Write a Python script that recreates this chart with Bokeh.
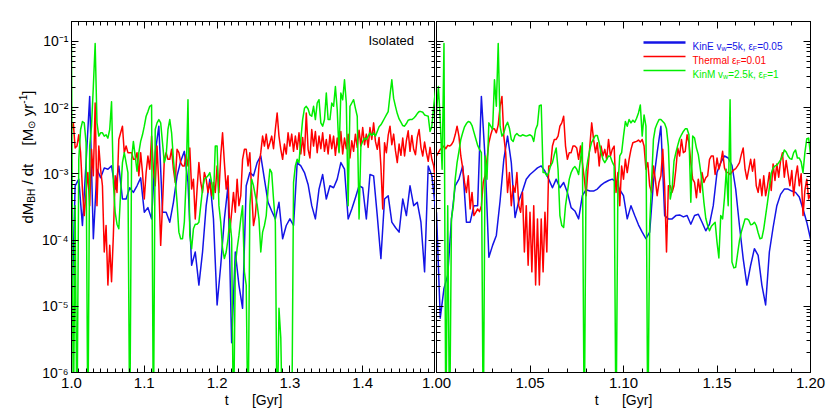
import numpy as np
from bokeh.plotting import figure
from bokeh.models import (Range1d, FixedTicker, LinearAxis, LogAxis, Label, BoxAnnotation,
                          CustomJSTickFormatter)
from bokeh.layouts import row
from bokeh.embed import file_html
from bokeh.resources import INLINE

# ---------------- data: log10(dM_BH/dt [Msun/yr]) sampled uniformly in t ----------------
# left panel: t = 1.0 ... 1.5 Gyr ; right panel: t = 1.0 ... 1.2 Gyr
series_names = ["KinE v_w=5k, eps_F=0.05", "Thermal eps_F=0.01", "KinM v_w=2.5k, eps_F=1"]
left_t_range = (1.0, 1.5)
right_t_range = (1.0, 1.2)

kine_left_log10 = [
    -5.30, -3.18, -3.08, -3.78, -2.83, -1.83, -3.98, -2.93, -3.06, -2.91,
    -2.93, -2.88, -3.23, -2.88, -3.38, -3.38, -3.21, -3.28, -3.18, -3.06,
    -3.58, -3.51, -3.68, -2.68, -2.28, -3.58, -3.58, -3.73, -3.43, -3.03,
    -2.81, -2.66, -3.13, -4.38, -4.18, -4.68, -4.18, -3.48, -3.08, -3.68,
    -4.98, -4.38, -3.68, -3.18, -5.55, -4.18, -4.68, -5.03, -3.18, -2.98,
    -3.03, -2.83, -2.73, -3.08, -3.43, -3.56, -3.68, -3.43, -3.98, -3.78,
    -3.68, -3.78, -2.83, -2.88, -2.98, -3.16, -3.48, -3.68, -3.23, -3.01,
    -3.38, -3.18, -3.21, -3.08, -2.83, -2.93, -3.68, -3.53, -3.36, -3.18,
    -3.21, -3.68, -3.01, -3.03, -3.63, -4.28, -3.38, -3.33, -3.73, -3.81,
    -3.88, -3.38, -3.63, -3.18, -3.48, -3.43, -3.73, -4.48, -2.88, -3.03,
    -3.53]

thermal_left_log10 = [
    -2.33, -2.23, -2.61, -2.58, -2.41, -2.68, -3.23, -3.63, -3.28, -2.98,
    -3.48, -2.63, -3.03, -1.93, -3.48, -2.58, -2.93, -3.18, -4.18, -3.78,
    -4.68, -4.08, -4.63, -3.93, -3.03, -3.28, -2.48, -2.38, -2.28, -2.68,
    -2.58, -2.68, -2.68, -2.68, -2.78, -2.78, -2.68, -3.03, -2.68, -2.98,
    -3.38, -2.98, -2.73, -2.93, -2.43, -2.93, -3.18, -2.58, -3.18, -4.08,
    -3.48, -2.78, -2.68, -2.78, -2.78, -2.63, -2.93, -3.13, -2.63, -2.68,
    -2.83, -2.88, -2.88, -2.71, -2.88, -2.61, -3.23, -3.08, -3.68, -3.23,
    -2.83, -3.13, -3.28, -2.98, -3.08, -3.28, -3.13, -3.33, -3.13, -3.28,
    -2.88, -3.28, -2.73, -2.38, -2.83, -3.23, -3.03, -3.88, -3.58, -3.28,
    -3.58, -3.08, -3.48, -3.33, -2.78, -2.63, -2.63, -2.88, -2.68, -3.28,
    -3.78, -3.63, -3.28, -2.88, -2.68, -2.43, -2.58, -2.40, -2.62, -2.53,
    -2.43, -2.62, -2.33, -2.08, -2.43, -2.63, -2.78, -2.55, -2.70, -2.38,
    -2.58, -2.40, -2.66, -2.43, -2.63, -2.38, -2.70, -2.45, -2.72, -2.08,
    -2.63, -2.76, -2.33, -2.58, -2.36, -2.68, -2.43, -2.62, -2.38, -2.66,
    -2.48, -2.70, -2.41, -2.62, -2.43, -2.72, -2.46, -2.66, -2.36, -2.70,
    -2.46, -2.62, -2.40, -2.76, -2.50, -2.66, -2.40, -2.60, -2.34, -2.58,
    -2.30, -2.56, -2.40, -2.60, -2.30, -2.48, -2.23, -2.51, -2.63, -2.45,
    -2.88, -3.53, -2.53, -2.68, -2.42, -2.28, -2.56, -2.40, -2.65, -2.83,
    -2.55, -2.72, -2.46, -2.73, -2.50, -2.35, -2.66, -2.42, -2.63, -2.71,
    -2.45, -2.33, -2.60, -2.73, -2.52, -2.68, -2.81, -2.60, -2.78, -2.88,
    -3.13]

kinm_left_log10 = [
    -1.05, -7.00, -3.48, -7.00, -2.78, -2.33, -2.21, -2.23, -2.53, -7.00,
    -2.58, -2.28, -1.68, -1.03, -2.23, -2.43, -2.38, -2.38, -2.43, -2.41,
    -2.46, -2.33, -1.91, -3.13, -3.58, -3.76, -3.83, -3.28, -2.83, -2.68,
    -2.83, -2.98, -7.00, -2.78, -2.51, -2.73, -2.96, -2.68, -2.51, -2.41,
    -2.28, -2.13, -2.06, -1.98, -1.96, -7.00, -2.33, -2.23, -2.18, -2.23,
    -2.53, -2.83, -2.73, -2.33, -2.18, -2.38, -2.78, -3.08, -3.43, -3.88,
    -3.98, -3.98, -3.73, -3.08, -1.88, -3.93, -4.13, -3.83, -3.76, -3.76,
    -3.73, -3.48, -3.23, -3.08, -3.06, -3.03, -2.98, -3.13, -3.38, -2.58,
    -2.58, -3.48, -3.73, -4.13, -4.28, -4.18, -3.98, -3.68, -3.98, -7.00,
    -4.38, -4.13, -3.93, -3.68, -3.48, -4.48, -4.68, -7.00, -3.48, -3.08,
    -3.18, -3.33, -3.46, -3.68, -4.18, -3.88, -3.78, -3.63, -3.23, -2.93,
    -2.98, -3.38, -3.73, -7.00, -5.03, -5.48, -7.00, -7.00, -7.00, -7.00,
    -7.00, -7.00, -3.13, -2.88, -2.78, -2.83, -2.48, -2.18, -2.01, -1.98,
    -2.02, -2.11, -2.13, -1.98, -2.18, -1.93, -1.88, -2.23, -2.28, -2.18,
    -1.78, -2.18, -2.18, -1.93, -1.98, -1.68, -2.03, -2.68, -1.78, -1.88,
    -1.58, -1.93, -3.48, -1.98, -1.93, -1.88, -2.01, -2.13, -3.68, -2.58,
    -2.51, -2.46, -2.48, -2.43, -2.38, -2.42, -2.38, -2.43, -2.36, -2.29,
    -2.26, -2.21, -2.16, -2.11, -2.06, -1.81, -1.58, -1.86, -1.98, -2.09,
    -2.17, -2.22, -2.27, -2.28, -2.24, -2.19, -2.18, -2.18, -2.16, -2.13,
    -2.09, -2.06, -2.06, -2.07, -2.11, -2.12, -2.13, -2.36, -2.28, -1.98,
    -1.73]

kine_right_log10 = [
    -3.58, -5.18, -4.73, -4.53, -3.68, -3.18, -3.08, -2.88, -3.73, -3.73,
    -3.48, -3.48, -1.83, -2.78, -4.26, -4.08, -3.93, -3.41, -2.78, -2.43,
    -2.83, -3.66, -3.41, -3.26, -3.08, -3.01, -2.96, -2.91, -2.88, -2.96,
    -3.08, -3.21, -3.08, -3.21, -3.13, -3.28, -3.51, -3.56, -3.68, -3.33,
    -3.24, -3.26, -3.26, -3.23, -3.17, -3.13, -3.10, -3.08, -3.12, -3.24,
    -3.33, -3.68, -3.48, -3.63, -3.77, -3.88, -3.98, -3.88, -3.13, -2.68,
    -2.28, -3.63, -3.68, -3.68, -3.63, -3.62, -3.65, -3.63, -3.76, -3.63,
    -3.61, -3.73, -3.86, -3.76, -3.48, -2.98, -2.83, -2.73, -2.76, -2.87,
    -3.23, -3.78, -4.28, -4.68, -4.38, -4.13, -4.23, -4.68, -4.98, -4.18,
    -3.81, -3.48, -3.31, -3.23, -3.23, -3.26, -3.28, -3.35, -3.53, -3.73,
    -3.98]

thermal_right_log10 = [
    -2.73, -2.68, -2.63, -2.61, -2.58, -2.62, -2.57, -2.58, -2.56, -2.51,
    -2.41, -2.28, -2.43, -2.73, -2.91, -3.13, -3.28, -3.03, -3.53, -3.28,
    -3.63, -3.58, -3.53, -3.57, -3.48, -3.13, -3.02, -2.78, -2.53, -2.41,
    -2.32, -2.32, -2.38, -2.26, -1.98, -1.83, -2.43, -2.68, -3.28, -2.98,
    -3.48, -3.18, -3.28, -2.98, -3.48, -3.58, -3.28, -4.18, -3.48, -4.38,
    -3.58, -4.48, -3.48, -4.68, -3.68, -4.68, -3.68, -4.48, -3.58, -4.18,
    -2.88, -2.88, -2.58, -2.48, -2.48, -2.43, -2.28, -2.23, -2.13, -2.58,
    -2.78, -2.68, -2.68, -2.58, -2.58, -2.61, -2.78, -2.58, -2.83, -3.06,
    -3.33, -2.93, -2.58, -2.23, -2.48, -2.68, -2.53, -2.88, -2.58, -2.73,
    -2.63, -2.78, -2.48, -2.73, -2.63, -2.58, -3.28, -2.98, -3.48, -2.88,
    -3.08, -2.78, -2.98, -2.78, -2.63, -2.53, -2.52, -2.51, -2.49, -2.52,
    -2.48, -2.58, -2.93, -2.83, -3.18, -3.28, -2.88, -3.08, -3.33, -3.13,
    -3.03, -2.63, -3.18, -4.18, -3.18, -3.18, -3.28, -3.18, -2.93, -2.61,
    -2.73, -2.48, -2.68, -2.66, -2.41, -2.53, -2.83, -3.08, -3.13, -3.36,
    -3.08, -3.28, -2.98, -3.13, -3.06, -3.03, -2.78, -2.73, -2.73, -3.01,
    -2.76, -2.93, -2.83, -2.66, -2.91, -2.98, -2.98, -3.01, -2.97, -2.94,
    -2.92, -2.88, -2.83, -2.71, -2.61, -2.93, -3.08, -2.93, -2.78, -2.96,
    -2.78, -3.18, -3.28, -3.08, -3.33, -3.03, -3.33, -3.18, -2.98, -3.25,
    -2.85, -3.10, -2.85, -3.05, -2.80, -2.68, -3.05, -2.80, -3.00, -3.18,
    -2.95, -3.33, -3.05, -2.88, -3.18, -3.00, -3.63, -3.25, -3.08, -3.38,
    -3.30]

kinm_right_log10 = [
    -2.08, -1.68, -2.18, -2.93, -1.03, -7.00, -3.48, -7.00, -3.68, -3.48,
    -3.08, -2.83, -2.66, -2.48, -2.38, -2.29, -2.24, -2.21, -2.22, -2.27,
    -2.37, -2.47, -2.57, -2.63, -2.68, -7.00, -2.73, -3.08, -2.23, -2.28,
    -2.33, -1.58, -1.98, -1.03, -2.28, -2.43, -2.38, -2.28, -2.22, -2.31,
    -2.48, -2.51, -2.42, -2.39, -2.42, -2.43, -2.41, -2.42, -2.43, -2.42,
    -2.41, -2.43, -2.51, -2.33, -2.26, -1.97, -1.96, -2.98, -2.98, -3.03,
    -2.98, -2.88, -2.83, -2.71, -2.61, -2.93, -3.63, -3.78, -3.81, -3.48,
    -3.28, -3.08, -2.98, -2.92, -2.89, -2.93, -3.01, -2.78, -2.53, -7.00,
    -2.96, -2.78, -2.63, -2.52, -2.47, -2.42, -2.42, -2.53, -2.68, -2.78,
    -2.83, -2.78, -2.73, -2.74, -2.82, -2.88, -7.00, -3.18, -2.73, -2.68,
    -2.43, -2.21, -2.28, -2.18, -2.23, -2.19, -2.22, -2.16, -2.08, -1.96,
    -2.43, -2.11, -2.28, -7.00, -3.78, -3.13, -2.48, -2.31, -2.24, -2.18,
    -2.18, -2.21, -2.24, -2.32, -2.58, -3.38, -3.23, -2.81, -2.68, -2.57,
    -2.47, -2.41, -2.36, -2.32, -2.32, -2.41, -3.43, -2.43, -2.46, -2.61,
    -2.71, -2.91, -3.13, -3.43, -3.67, -3.78, -3.86, -3.79, -3.76, -3.73,
    -4.03, -4.27, -3.63, -3.68, -3.36, -2.93, -3.48, -1.88, -4.33, -4.42,
    -4.41, -4.21, -4.01, -3.88, -3.78, -3.68, -3.68, -3.70, -3.77, -3.76,
    -3.73, -3.78, -3.89, -3.98, -3.97, -3.83, -3.63, -3.43, -3.21, -2.99,
    -2.91, -2.88, -2.87, -2.83, -2.79, -2.73, -2.64, -2.67, -2.73, -2.77,
    -2.78, -2.68, -2.64, -2.76, -2.76, -2.82, -2.98, -2.68, -2.47, -2.46,
    -2.71]

# ---------------- tick definitions ----------------
y_major = [1e-6, 1e-5, 1e-4, 1e-3, 1e-2, 1e-1]
y_major_labels = ["10\u207b\u2076", "10\u207b\u2075", "10\u207b\u2074",
                  "10\u207b\u00b3", "10\u207b\u00b2", "10\u207b\u00b9"]
y_minor = [m * d for d in y_major for m in range(2, 10)]

left_x_major = [1.0, 1.1, 1.2, 1.3, 1.4, 1.5]
left_x_labels = ["1.0", "1.1", "1.2", "1.3", "1.4", ""]
left_x_minor = [round(1.0 + 0.01 * i, 2) for i in range(51)]
right_x_major = [1.0, 1.05, 1.1, 1.15, 1.2]
right_x_labels = ["1.00", "1.05", "1.10", "1.15", "1.20"]
right_x_minor = [round(1.0 + 0.01 * i, 2) for i in range(21)]
x_title = "t\u00a0\u00a0\u00a0\u00a0\u00a0\u00a0[Gyr]"

COL_KINE = "#1414e6"
COL_THERM = "#ff0000"
COL_KINM = "#00ee00"
FONT = "Liberation Sans"
H = 412
BT, BB = 21, 40
LABEL_W = 38


def style_axis(ax, major, minor, labels):
    ax.ticker = FixedTicker(ticks=major, minor_ticks=minor)
    ax.major_tick_in = 7
    ax.major_tick_out = 0
    ax.minor_tick_in = 4
    ax.minor_tick_out = 0
    ax.axis_line_color = "black"
    ax.axis_line_width = 1
    ax.major_tick_line_color = "black"
    ax.minor_tick_line_color = "black"
    if labels is None:
        ax.formatter = CustomJSTickFormatter(code="return ''")
        ax.major_label_text_font_size = "1px"
        ax.major_label_standoff = 0
    else:
        ax.major_label_overrides = {v: s for v, s in zip(major, labels)}
        ax.major_label_text_font = FONT
        ax.major_label_text_font_size = "15px"
        ax.major_label_text_color = "black"


def make_panel(t_range, width, bl, br, xmaj, xmin, xlab, ylab):
    p = figure(width=width, height=H, x_range=Range1d(*t_range),
               y_range=Range1d(1e-6, 0.2), y_axis_type="log",
               x_axis_location=None, y_axis_location=None,
               output_backend="svg", toolbar_location=None,
               min_border_left=bl, min_border_right=br,
               min_border_top=BT, min_border_bottom=BB)
    p.grid.visible = False
    p.outline_line_color = "black"
    p.background_fill_color = "white"
    p.border_fill_color = None

    bottom = LinearAxis(axis_label=x_title)
    style_axis(bottom, xmaj, xmin, xlab)
    bottom.major_label_standoff = 5
    bottom.axis_label_standoff = 1
    bottom.axis_label_text_font = FONT
    bottom.axis_label_text_font_size = "14px"
    bottom.axis_label_text_font_style = "normal"
    bottom.axis_label_text_color = "black"
    p.add_layout(bottom, "below")
    top = LinearAxis()
    style_axis(top, xmaj, xmin, None)
    p.add_layout(top, "above")
    left = LogAxis()
    style_axis(left, y_major, y_minor, y_major_labels if ylab else None)
    if ylab:
        left.major_label_standoff = 3
        left.major_label_text_font_size = "14px"
    p.add_layout(left, "left")
    right = LogAxis()
    style_axis(right, y_major, y_minor, None)
    p.add_layout(right, "right")
    return p


def draw(p, t_range, lg, color):
    t = np.linspace(t_range[0], t_range[1], len(lg))
    p.line(t, 10.0 ** np.asarray(lg), line_color=color, line_width=1.5, line_join="round")


p1 = make_panel(left_t_range, 435 - LABEL_W, 67 - LABEL_W, 0,
                left_x_major, left_x_minor, left_x_labels, True)
p2 = make_panel(right_t_range, 410, 16, 20, right_x_major, right_x_minor, right_x_labels, False)
p2.margin = (0, 0, 0, -15)

for p, rng, data in ((p1, left_t_range, (kine_left_log10, thermal_left_log10, kinm_left_log10)),
                     (p2, right_t_range, (kine_right_log10, thermal_right_log10, kinm_right_log10))):
    for lg, col in zip(data, (COL_KINE, COL_THERM, COL_KINM)):
        draw(p, rng, lg, col)

# narrow strip holding the rotated y-axis title (pieces for sub/superscripts)
pl = figure(width=LABEL_W, height=H, x_range=Range1d(0, 1), y_range=Range1d(0, 1),
            output_backend="svg", toolbar_location=None, min_border=0,
            x_axis_location=None, y_axis_location=None)
pl.grid.visible = False
pl.outline_line_color = None
pl.background_fill_color = None
pl.border_fill_color = None
ang = np.pi / 2
ypieces = [("dM", 149, 27, "15px"), ("BH", 169.8, 31, "10px"), ("/ dt", 187.9, 27, "15px"),
           ("[M", 227, 27, "15px"), ("\u2299", 243.7, 31, "10px"), ("yr", 256.3, 27, "15px"),
           ("-1", 268.8, 22, "10px"), ("]", 277.7, 27, "15px")]
for txt, yy, xx, fs in ypieces:
    pl.add_layout(Label(x=xx, y=yy, x_units="screen", y_units="screen", text=txt, angle=ang,
                        text_font=FONT, text_font_size=fs, text_align="left",
                        text_baseline="middle", text_color="black"))

p1.add_layout(Label(x=297, y=332, x_units="screen", y_units="screen", text="Isolated",
                    text_font=FONT, text_font_size="13px", text_align="left",
                    text_baseline="middle", text_color="black"))

# legend (top right of right panel)
legend_rows = [
    (330, COL_KINE, 2.5, [("KinE v", 256, 0), ("w", 284.9, 1), ("=5k, \u03b5", 289.95, 0), ("F", 316.35, 1), ("=0.05", 320.65, 0)]),
    (316, COL_THERM, 1.5, [("Thermal \u03b5", 256, 0), ("F", 299.9, 1), ("=0.01", 304.2, 0)]),
    (302, COL_KINM, 1.5, [("KinM v", 256, 0), ("w", 286.6, 1), ("=2.5k, \u03b5", 291.65, 0), ("F", 326.45, 1), ("=1", 330.75, 0)]),
]
for ry, col, lw, pieces in legend_rows:
    p2.add_layout(BoxAnnotation(left=207, right=249, top=ry + lw / 2, bottom=ry - lw / 2,
                                left_units="screen", right_units="screen",
                                top_units="screen", bottom_units="screen",
                                fill_color=col, fill_alpha=1.0, line_color=None))
    for txt, xx, sub in pieces:
        p2.add_layout(Label(x=xx, y=ry - 3.5 - (2.5 if sub else 0), x_units="screen", y_units="screen",
                            text=txt, text_font=FONT, text_font_size="7px" if sub else "10px",
                            text_align="left", text_baseline="alphabetic", text_color=col))

layout = row(pl, p1, p2)
open("out.html", "w").write(file_html(layout, INLINE))
